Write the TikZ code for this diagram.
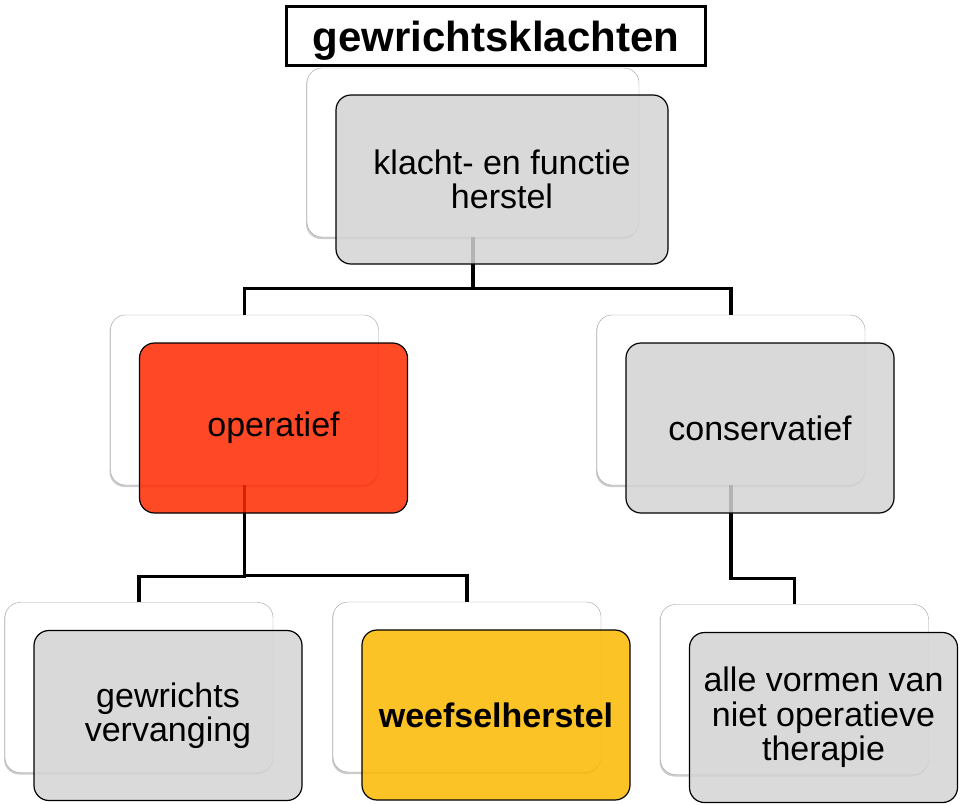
\documentclass[tikz,border=0pt]{standalone}
\usepackage{fontspec}
\setmainfont{Liberation Sans}
\usetikzlibrary{positioning,shadows}

\definecolor{cardgray}{RGB}{211,211,211}
\definecolor{opred}{RGB}{255,42,0}
\definecolor{weefyellow}{RGB}{252,185,0}

\begin{document}
\begin{tikzpicture}[x=1pt,y=1pt,
		back/.style={draw=gray!75,fill=white,rounded corners=15pt,minimum width=268pt,minimum height=170pt,inner sep=0pt,drop shadow={shadow xshift=-1pt,shadow yshift=-2pt,opacity=.4}},
		front/.style={draw=black,line width=1.2pt,rounded corners=15pt,minimum width=268pt,minimum height=170pt,inner sep=0pt,fill=cardgray,fill opacity=.85,text opacity=1,align=center,font=\fontsize{34}{34.5}\selectfont},
		conn/.style={line width=3.2pt}]
				\useasboundingbox (0,0) rectangle (960,-804);
				% title
				\node (title) [draw,line width=3pt,minimum width=419pt,minimum height=59pt,inner sep=0pt,text depth=0pt,font=\fontsize{42}{48}\selectfont\bfseries] at (496,-36) {gewrichtsklachten};
				% back cards
				\node (klachtB) [back,minimum width=332pt,minimum height=169pt] at (473,-152.5) {};
				\node (opB) [back] at (244.5,-400) {};
				\node (consB) [back] at (731,-400) {};
				\node (gewB) [back] at (139,-687.5) {};
				\node (weefB) [back] at (467,-687) {};
				\node (alleB) [back] at (794.5,-689.5) {};
				% connectors
				\draw [conn] (klachtB.south) |- ([yshift=26pt]opB.north) -- (opB.north);
				\draw [conn] (klachtB.south) |- ([yshift=26pt]consB.north) -- (consB.north);
				\draw [conn] (opB.south) |- ([yshift=26pt]gewB.north) -- (gewB.north);
				\draw [conn] (opB.south) |- ([yshift=26pt]weefB.north) -- (weefB.north);
				\draw [conn] (consB.south) |- ([yshift=26pt]alleB.north) -- (alleB.north);
				% front cards
				\node (klacht) [front,minimum width=332pt,minimum height=169pt] at ([shift={(29,-27)}]klachtB.center) {klacht- en functie\\herstel};
				\node (op) [front,fill=opred] at ([shift={(29,-28)}]opB.center) {operatief};
				\node (cons) [front] at ([shift={(29,-28)}]consB.center) {conservatief};
				\node (gew) [front] at ([shift={(29,-28)}]gewB.center) {gewrichts\\vervanging};
				\node (weef) [front,fill=weefyellow,font=\fontsize{34}{34.5}\selectfont\bfseries] at ([shift={(29,-28)}]weefB.center) {weefselherstel};
				\node (alle) [front] at ([shift={(29,-28)}]alleB.center) {alle vormen van\\niet operatieve\\therapie};
			\end{tikzpicture}
\end{document}
